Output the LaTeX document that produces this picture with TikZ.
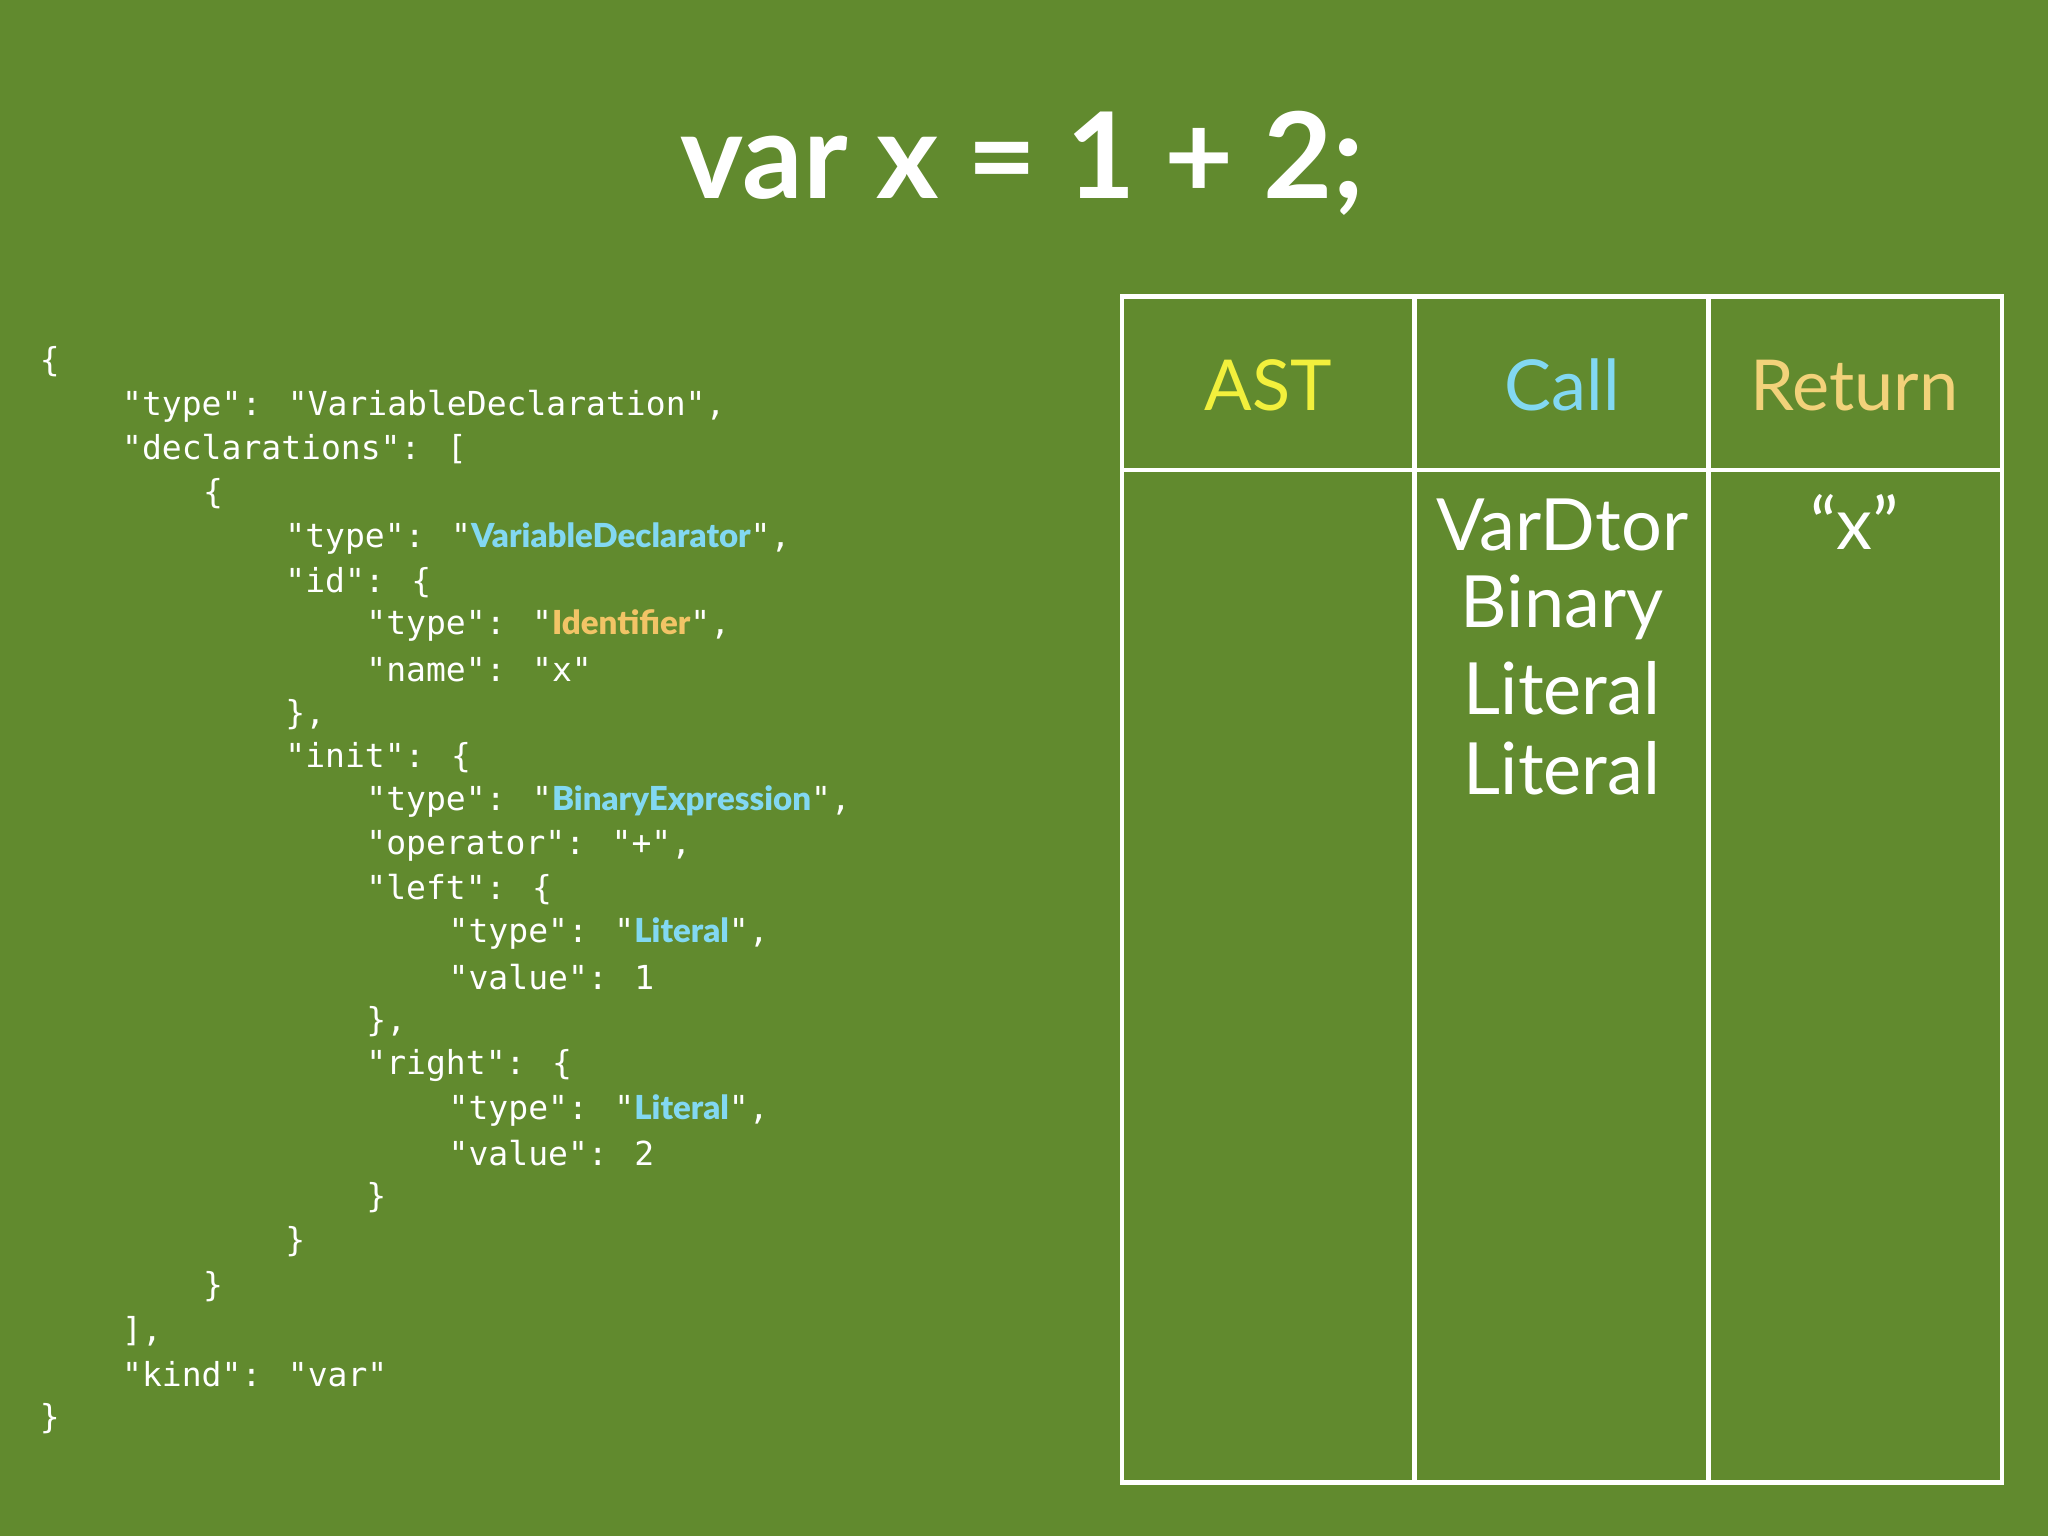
\documentclass[tikz,border=0pt]{standalone}
\usepackage{fontspec}
\setmainfont{Lato}
\newfontfamily\codefont{DejaVu Sans Mono}
\newfontfamily\hlfont{Lato Black}
\definecolor{slidegreen}{HTML}{618A2E}
\definecolor{astyellow}{HTML}{F2F03C}
\definecolor{callcyan}{HTML}{82D8F2}
\definecolor{retorange}{HTML}{F2D27A}
\definecolor{idorange}{HTML}{F2C466}
\newcommand{\hlc}[1]{{\hlfont\color{callcyan}#1}}
\newcommand{\hlo}[1]{{\hlfont\color{idorange}#1}}

\tikzset{
  code/.style={anchor=west, inner sep=0pt, text=white, font=\codefont\fontsize{9.4}{10}\selectfont},
  colhead/.style={font=\fontsize{20}{24}\selectfont},
  cell/.style={text=white, font=\fontsize{20.5}{24}\selectfont, inner sep=0pt},
  grid/.style={draw=white, line width=1.2pt}
}

\begin{document}
\begin{tikzpicture}[x=0.01306cm, y=-0.01306cm]
  \fill[slidegreen] (0,0) rectangle (1568,1176);
  \useasboundingbox (0,0) rectangle (1568,1176);

  % title
  \node[text=white, font=\bfseries\fontsize{34}{38}\selectfont] (title) at (783,125) {var x = 1 + 2;};

  % json
  \node[code] (l1)  at (30,277)  {\{};
  \node[code] (l2)  at (93,311)  {"type": "VariableDeclaration",};
  \node[code] (l3)  at (93,344)  {"declarations": [};
  \node[code] (l4)  at (155,378) {\{};
  \node[code] (l5)  at (218,412) {"type": "\hlc{VariableDeclarator}",};
  \node[code] (l6)  at (218,446) {"id": \{};
  \node[code] (l7)  at (280,479) {"type": "\hlo{Identifier}",};
  \node[code] (l8)  at (280,513) {"name": "x"};
  \node[code] (l9)  at (218,547) {\},};
  \node[code] (l10) at (218,580) {"init": \{};
  \node[code] (l11) at (280,614) {"type": "\hlc{BinaryExpression}",};
  \node[code] (l12) at (280,648) {"operator": "+",};
  \node[code] (l13) at (280,681) {"left": \{};
  \node[code] (l14) at (343,715) {"type": "\hlc{Literal}",};
  \node[code] (l15) at (343,748) {"value": 1};
  \node[code] (l16) at (280,782) {\},};
  \node[code] (l17) at (280,816) {"right": \{};
  \node[code] (l18) at (343,850) {"type": "\hlc{Literal}",};
  \node[code] (l19) at (343,883) {"value": 2};
  \node[code] (l20) at (280,917) {\}};
  \node[code] (l21) at (218,951) {\}};
  \node[code] (l22) at (155,985) {\}};
  \node[code] (l23) at (93,1019) {],};
  \node[code] (l24) at (93,1052) {"kind": "var"};
  \node[code] (l25) at (30,1086) {\}};

  % table
  \draw[grid] (859,227) rectangle (1533,1135);
  \draw[grid] (1083,227) -- (1083,1135);
  \draw[grid] (1308,227) -- (1308,1135);
  \draw[grid] (859,360) -- (1533,360);

  \node[colhead, text=astyellow] (ast) at (971,295) {AST};
  \node[colhead, text=callcyan] (call) at (1196,295) {Call};
  \node[colhead, text=retorange] (ret) at (1420,295) {Return};

  \node[cell] (c1) at (1196,402) {VarDtor};
  \node[cell] (c2) at (1196,465) {Binary};
  \node[cell] (c3) at (1196,527) {Literal};
  \node[cell] (c4) at (1196,588) {Literal};
  \node[cell] (r1) at (1420,400) {“x”};
\end{tikzpicture}
\end{document}
